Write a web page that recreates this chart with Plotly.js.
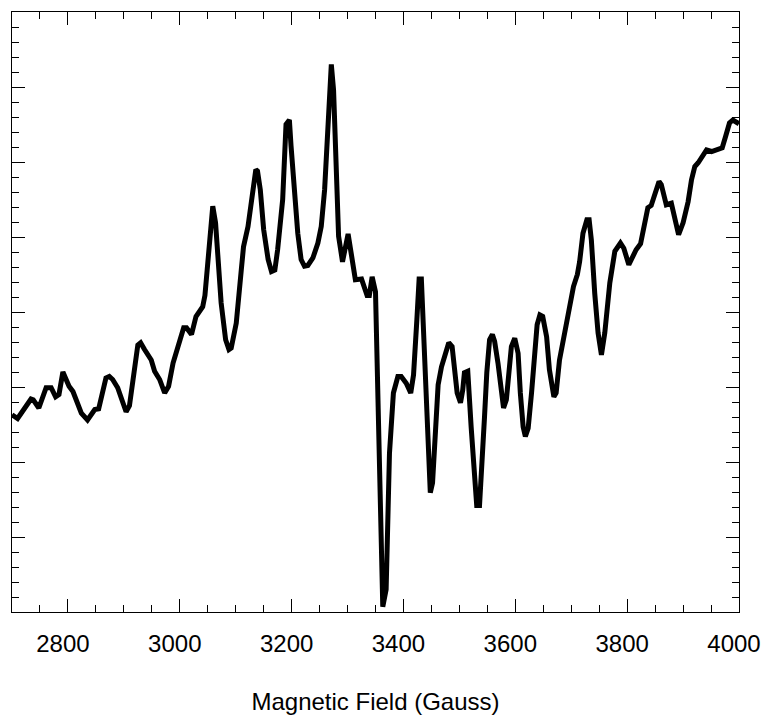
<!DOCTYPE html>
<html>
<head>
<meta charset="utf-8">
<script src="https://cdn.plot.ly/plotly-3.0.1.min.js"></script>
<style>html,body{margin:0;padding:0;background:#fff;}#chart{width:764px;height:717px;}</style>
</head>
<body>
<div id="chart"></div>
<script>
// Magnetic field (Gauss)
const field = [2700,2710,2734,2738,2748,2761,2770,2778,2784,2791,2802,2809,2824,2835,2848,2855,2868,2874,2880,2889,
2904,2910,2925,2930,2937,2949,2955,2964,2973,2980,2988,2997,3007,3012,3021,3029,3041,3045,3050,3055,
3059,3064,3068,3074,3082,3088,3092,3101,3110,3114,3122,3131,3136,3139,3144,3150,3158,3164,3170,3175,
3184,3190,3196,3199,3205,3211,3217,3223,3229,3238,3247,3253,3259,3265,3269,3271,3275,3280,3284,3291,
3301,3307,3314,3325,3335,3339,3344,3350,3355,3359,3363,3369,3375,3382,3390,3396,3405,3413,3418,3424,
3428,3432,3438,3442,3448,3452,3456,3462,3468,3475,3481,3487,3491,3496,3502,3506,3509,3515,3521,3527,
3531,3536,3540,3545,3549,3554,3559,3563,3569,3575,3579,3584,3590,3593,3599,3605,3609,3614,3618,3623,
3629,3635,3639,3644,3649,3656,3661,3669,3673,3679,3688,3697,3704,3711,3715,3721,3728,3732,3736,3742,
3748,3754,3760,3769,3778,3788,3794,3803,3810,3816,3824,3830,3837,3843,3849,3857,3861,3870,3879,3885,
3892,3900,3909,3915,3921,3927,3933,3942,3951,3960,3970,3976,3983,3989,3995,4000];
// EPR signal (arbitrary units)
const signal = [-1.37,-1.42,-1.16,-1.17,-1.28,-1.01,-1.01,-1.13,-1.10,-0.80,-0.99,-1.06,-1.35,-1.44,-1.30,-1.29,-0.88,-0.86,-0.90,-1.01,
-1.33,-1.25,-0.44,-0.41,-0.50,-0.64,-0.79,-0.90,-1.08,-0.99,-0.68,-0.48,-0.21,-0.21,-0.30,-0.06,0.07,0.22,0.65,1.10,
1.41,1.19,0.74,0.12,-0.37,-0.50,-0.48,-0.15,0.56,0.87,1.14,1.63,1.90,1.88,1.63,1.10,0.70,0.54,0.56,0.83,
1.50,2.50,2.56,2.21,1.63,1.05,0.70,0.61,0.62,0.72,0.92,1.14,1.63,2.39,3.05,3.30,2.96,1.99,1.01,0.67,
1.04,0.76,0.43,0.44,0.22,0.22,0.47,0.27,-1.44,-3.04,-3.93,-3.70,-1.88,-1.08,-0.86,-0.86,-0.95,-1.08,-0.84,-0.10,
0.44,0.44,-0.59,-1.66,-2.41,-2.28,-1.61,-0.97,-0.73,-0.53,-0.41,-0.46,-0.77,-1.08,-1.21,-1.04,-0.81,-0.79,-1.53,-2.15,
-2.58,-2.58,-2.15,-1.39,-0.81,-0.37,-0.30,-0.39,-0.68,-1.08,-1.28,-1.17,-0.73,-0.46,-0.35,-0.55,-1.08,-1.53,-1.66,-1.55,
-1.08,-0.50,-0.17,-0.04,-0.06,-0.33,-0.77,-1.13,-1.08,-0.64,-0.26,0.12,0.34,0.50,0.67,1.05,1.23,1.23,0.96,0.25,
-0.28,-0.57,-0.28,0.39,0.81,0.92,0.85,0.63,0.74,0.83,0.91,1.10,1.39,1.42,1.56,1.74,1.70,1.43,1.45,1.27,
1.03,1.19,1.47,1.76,1.94,1.99,2.05,2.16,2.14,2.17,2.19,2.34,2.52,2.56,2.54,2.51];
const xTitle = 'Magnetic Field (Gauss)';

const font = 'Liberation Sans, Arial, Helvetica, sans-serif';
Plotly.newPlot('chart', [{
  x: field, y: signal, type: 'scatter', mode: 'lines',
  line: {color: '#000', width: 5}, hoverinfo: 'skip'
}], {
  width: 764, height: 717,
  margin: {l: 12, r: 25, t: 12, b: 105},
  paper_bgcolor: '#fff', plot_bgcolor: '#fff',
  showlegend: false,
  font: {family: font, color: '#000', size: 24},
  xaxis: {
    range: [2700, 4000], tick0: 2800, dtick: 200,
    ticks: 'inside', ticklen: 13, tickwidth: 1, tickcolor: '#000',
    minor: {dtick: 50, tick0: 2700, ticks: 'inside', ticklen: 7, tickwidth: 1, tickcolor: '#000', showgrid: false},
    showline: true, linecolor: '#000', linewidth: 1, mirror: 'ticks',
    showgrid: false, zeroline: false,
    tickfont: {family: font, size: 24, color: '#000'},
    ticklabelshift: -5, ticklabelstandoff: 10,
    title: {text: xTitle, font: {family: font, size: 24, color: '#000'}, standoff: 37},
    automargin: false
  },
  yaxis: {
    range: [-4, 4], tick0: 0, dtick: 1,
    ticks: 'inside', ticklen: 13, tickwidth: 1, tickcolor: '#000',
    minor: {dtick: 0.2, ticks: 'inside', ticklen: 7, tickwidth: 1, tickcolor: '#000', showgrid: false},
    showline: true, linecolor: '#000', linewidth: 1, mirror: 'ticks',
    showgrid: false, zeroline: false, showticklabels: false,
    automargin: false
  }
}, {displayModeBar: false, staticPlot: true});
</script>
</body>
</html>
